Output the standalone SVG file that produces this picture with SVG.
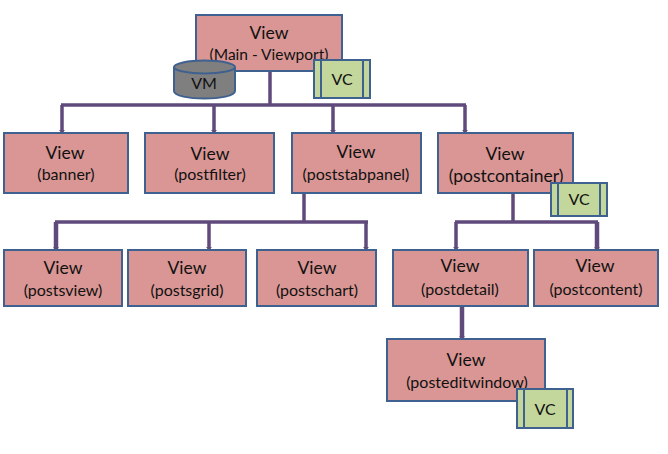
<svg xmlns="http://www.w3.org/2000/svg" width="668" height="454" viewBox="0 0 668 454">
<style>
.n{fill:#d99694;stroke:#3f6190;stroke-width:2}
.c{fill:none;stroke:#604a7b;stroke-width:3.500}
.vc{fill:#c3d69b;stroke:#3f6190;stroke-width:2}
.vm{fill:#7f7f7f;stroke:#3f6190;stroke-width:2}
text{font-family:"Lato","Open Sans","Liberation Sans",sans-serif;fill:#111;text-anchor:middle}
.t{font-size:17.500px}
.s{font-size:16px}
.l{font-size:16px}
</style>
<defs>
<marker id="a" markerUnits="userSpaceOnUse" markerWidth="7" markerHeight="6" refX="3" refY="3" orient="auto"><path d="M0 0L3 3L0 6Z" fill="#604a7b"/></marker>
</defs>
<rect width="668" height="454" fill="#fff"/>
<g id="connectors">
<path class="c" d="M270 71V105"/>
<path class="c" d="M61 105H466"/>
<path class="c" d="M62 105V133" marker-end="url(#a)"/>
<path class="c" d="M214 105V133" marker-end="url(#a)"/>
<path class="c" d="M333 105V133" marker-end="url(#a)"/>
<path class="c" d="M465 105V133" marker-end="url(#a)"/>
<path class="c" d="M304 193V222"/>
<path class="c" d="M55 222H368"/>
<path class="c" style="stroke-width:4.500" d="M56 222V250" marker-end="url(#a)"/>
<path class="c" d="M209 222V250" marker-end="url(#a)"/>
<path class="c" d="M366 222V250" marker-end="url(#a)"/>
<path class="c" d="M513 193V222"/>
<path class="c" d="M455 222H598"/>
<path class="c" d="M456 222V250" marker-end="url(#a)"/>
<path class="c" style="stroke-width:4.500" d="M597 222V250" marker-end="url(#a)"/>
<path class="c" style="stroke-width:4.500" d="M462 306V339" marker-end="url(#a)"/>
</g>
<g id="main"><rect class="n" x="196" y="15" width="146" height="56"/><text class="t" x="269" y="39">View</text><text class="s" style="font-size:15.500px" x="269" y="60">(Main - Viewport)</text></g>
<g id="vm"><path class="vm" d="M174 68V91C174 101 235 101 235 91V68Z"/><ellipse class="vm" cx="204.500" cy="67" rx="30.500" ry="6.500"/><text class="l" x="204" y="89">VM</text></g>
<g id="vc1"><rect class="vc" x="314" y="60" width="56" height="38"/><path class="vc" d="M321 60V98M363 60V98"/><text class="l" x="342" y="85">VC</text></g>
<g id="banner"><rect class="n" x="4" y="133" width="124" height="60"/><text class="t" x="65" y="159">View</text><text class="s" x="66" y="180">(banner)</text></g>
<g id="postfilter"><rect class="n" x="145" y="133" width="129" height="60"/><text class="t" x="210" y="160">View</text><text class="s" x="210" y="180">(postfilter)</text></g>
<g id="poststabpanel"><rect class="n" x="292" y="133" width="129" height="60"/><text class="t" x="356" y="158">View</text><text class="s" x="356" y="180">(poststabpanel)</text></g>
<g id="postcontainer"><rect class="n" x="438" y="133" width="135" height="60"/><text class="t" x="505" y="160">View</text><text class="t" x="506" y="182">(postcontainer)</text></g>
<g id="vc2"><rect class="vc" x="551" y="183" width="56" height="33"/><path class="vc" d="M558 183V216M600 183V216"/><text class="l" x="579" y="205">VC</text></g>
<g id="postsview"><rect class="n" x="4" y="250" width="118" height="56"/><text class="t" x="63" y="274">View</text><text class="s" x="63" y="296">(postsview)</text></g>
<g id="postsgrid"><rect class="n" x="128" y="250" width="118" height="56"/><text class="t" x="187" y="274">View</text><text class="s" x="187" y="296">(postsgrid)</text></g>
<g id="postschart"><rect class="n" x="257" y="250" width="119" height="56"/><text class="t" x="317" y="274">View</text><text class="s" x="317" y="296">(postschart)</text></g>
<g id="postdetail"><rect class="n" x="393" y="250" width="135" height="56"/><text class="t" x="460" y="272">View</text><text class="s" x="460" y="295">(postdetail)</text></g>
<g id="postcontent"><rect class="n" x="534" y="250" width="124" height="56"/><text class="t" x="595" y="272">View</text><text class="s" x="596" y="295">(postcontent)</text></g>
<g id="posteditwindow"><rect class="n" x="387" y="339" width="158" height="62"/><text class="t" x="466" y="366">View</text><text class="s" x="467" y="388">(posteditwindow)</text></g>
<g id="vc3"><rect class="vc" x="517" y="389" width="56" height="39"/><path class="vc" d="M524 389V428M567 389V428"/><text class="l" x="545" y="415">VC</text></g>
</svg>
